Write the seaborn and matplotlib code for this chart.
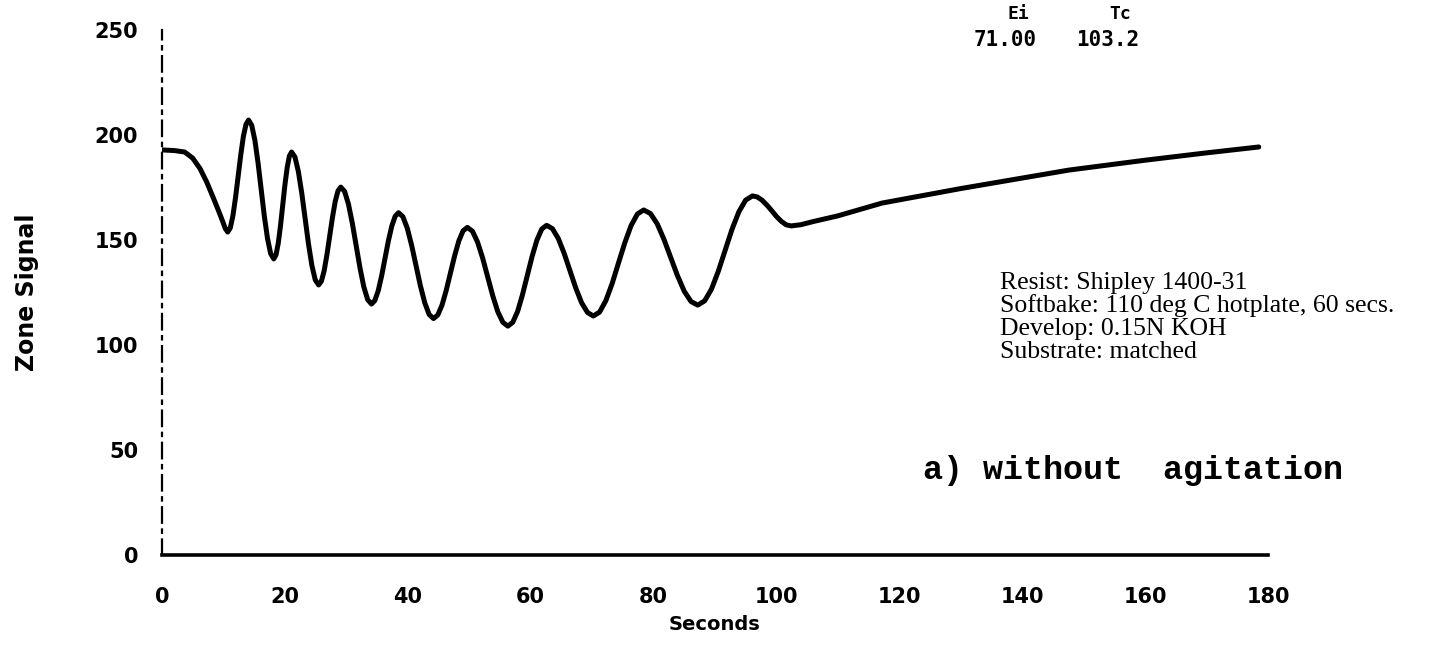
import matplotlib
matplotlib.use("Agg")
import matplotlib.pyplot as plt
import seaborn as sns
import pandas as pd

# ---- data ----
seconds = [0.0, 2.0, 3.7, 5.0, 6.2, 7.3, 8.3, 9.2, 9.8, 10.3, 10.7,
           11.13, 11.55, 11.98, 12.4, 12.83, 13.25, 13.68, 14.1,
           14.61, 15.13, 15.64, 16.15, 16.66, 17.18, 17.69, 18.2,
           18.56, 18.93, 19.29, 19.65, 20.01, 20.38, 20.74, 21.1,
           21.65, 22.2, 22.75, 23.3, 23.85, 24.4, 24.95, 25.5,
           25.95, 26.4, 26.85, 27.3, 27.75, 28.2, 28.65, 29.1,
           29.73, 30.35, 30.98, 31.6, 32.23, 32.85, 33.48, 34.1,
           34.65, 35.2, 35.75, 36.3, 36.85, 37.4, 37.95, 38.5,
           39.21, 39.93, 40.64, 41.35, 42.06, 42.78, 43.49, 44.2,
           44.89, 45.58, 46.26, 46.95, 47.64, 48.33, 49.01, 49.7,
           50.53, 51.35, 52.18, 53.0, 53.83, 54.65, 55.48, 56.3,
           57.09, 57.88, 58.66, 59.45, 60.24, 61.03, 61.81, 62.6,
           63.55, 64.5, 65.45, 66.4, 67.35, 68.3, 69.25, 70.2,
           71.23, 72.25, 73.28, 74.3, 75.33, 76.35, 77.38, 78.4,
           79.5, 80.6, 81.7, 82.8, 83.9, 85.0, 86.1, 87.2,
           88.31, 89.43, 90.54, 91.65, 92.76, 93.88, 94.99, 96.1,
           96.89, 97.68, 98.46, 99.25, 100.04, 100.83, 101.61, 102.4,
           104.0, 106.0, 110.0, 117.2, 130.0, 147.6, 160.0, 170.0, 178.5]
zone_signal = [192.9, 192.6, 191.9, 189.0, 184.0, 177.5, 170.5, 164.0, 159.5, 155.5, 153.8,
               155.8, 161.6, 170.3, 180.5, 190.6, 199.3, 205.1, 207.1,
               204.6, 197.4, 186.7, 174.1, 161.4, 150.7, 143.5, 141.0,
               142.9, 148.5, 156.7, 166.5, 176.2, 184.5, 190.0, 191.9,
               189.5, 182.6, 172.4, 160.3, 148.1, 137.9, 131.0, 128.6,
               130.4, 135.4, 143.0, 151.9, 160.8, 168.4, 173.4, 175.2,
               173.1, 167.1, 158.0, 147.4, 136.7, 127.7, 121.6, 119.5,
               121.2, 125.9, 132.9, 141.3, 149.6, 156.6, 161.3, 163.0,
               161.1, 155.6, 147.4, 137.8, 128.2, 120.0, 114.5, 112.6,
               114.3, 119.0, 126.0, 134.3, 142.6, 149.7, 154.4, 156.0,
               154.2, 149.1, 141.5, 132.5, 123.5, 115.9, 110.8, 109.0,
               110.8, 116.0, 123.8, 133.0, 142.2, 150.0, 155.2, 157.0,
               155.4, 150.7, 143.7, 135.4, 127.1, 120.1, 115.5, 113.8,
               115.7, 121.2, 129.4, 139.1, 148.7, 156.9, 162.4, 164.3,
               162.6, 157.7, 150.3, 141.7, 133.0, 125.6, 120.7, 119.0,
               121.0, 126.6, 135.1, 145.0, 155.0, 163.4, 169.0, 171.0,
               170.5, 168.9, 166.6, 163.9, 161.1, 158.8, 157.2, 156.7,
               157.3, 158.8, 161.5, 167.6, 174.5, 183.3, 188.0, 191.5, 194.3]
x_ticks = [0, 20, 40, 60, 80, 100, 120, 140, 160, 180]
y_ticks = [0, 50, 100, 150, 200, 250]
ei_value = "71.00"
tc_value = "103.2"
notes = ["Resist: Shipley 1400-31",
         "Softbake: 110 deg C hotplate, 60 secs.",
         "Develop: 0.15N KOH",
         "Substrate: matched"]
panel_label = "a) without  agitation"

df = pd.DataFrame({"Seconds": seconds, "Zone Signal": zone_signal})

sns.set_style("white")
plt.rcParams["font.family"] = ["DejaVu Sans"]
plt.rcParams["text.color"] = "black"
plt.rcParams["axes.labelcolor"] = "black"

fig = plt.figure(figsize=(14.37, 6.48), dpi=100)
ax = fig.add_axes([0.1127, 0.1435, 0.7697, 0.8102])

sns.lineplot(data=df, x="Seconds", y="Zone Signal", color="black",
             linewidth=3.6, ax=ax, sort=False,
             solid_joinstyle="round", solid_capstyle="round")

ax.set_xlim(0, 180)
ax.set_ylim(0, 250)
ax.set_xticks(x_ticks)
ax.set_yticks(y_ticks)
ax.set_xticklabels([str(v) for v in x_ticks], fontsize=15, fontweight="bold")
ax.set_yticklabels([str(v) for v in y_ticks], fontsize=15, fontweight="bold")

for s in ["top", "right"]:
    ax.spines[s].set_visible(False)
ax.spines["left"].set_linestyle((0, (7, 3, 1.5, 3)))
ax.spines["left"].set_linewidth(1.6)
ax.spines["bottom"].set_linewidth(2.6)
ax.spines["left"].set_color("black")
ax.spines["bottom"].set_color("black")

ax.tick_params(axis="x", direction="out", length=14, width=1.8, pad=9, colors="black")
ax.tick_params(axis="y", direction="out", length=12, width=1.8, pad=5, colors="black")

ax.set_xlabel("Seconds", fontsize=14, fontweight="bold", labelpad=6, color="black")
ax.set_ylabel("Zone Signal", fontsize=17, fontweight="bold", labelpad=40, color="black")

# header values
fig.text(1018 / 1437, 1 - 14 / 648, "Ei", fontsize=13, fontweight="bold",
         ha="center", va="center", family="DejaVu Sans Mono", color="black")
fig.text(1120 / 1437, 1 - 14 / 648, "Tc", fontsize=13, fontweight="bold",
         ha="center", va="center", family="DejaVu Sans Mono", color="black")
fig.text(1005 / 1437, 1 - 40 / 648, ei_value, fontsize=15, fontweight="bold",
         ha="center", va="center", family="DejaVu Sans Mono", color="black")
fig.text(1108 / 1437, 1 - 40 / 648, tc_value, fontsize=15, fontweight="bold",
         ha="center", va="center", family="DejaVu Sans Mono", color="black")

for i, line in enumerate(notes):
    fig.text(1000 / 1437, 1 - (283 + 23 * i) / 648, line, fontsize=18.5,
             family="Liberation Serif", ha="left", va="center", color="black")

fig.text(923 / 1437, 1 - 470 / 648, panel_label, fontsize=24, fontweight="bold",
         family="Liberation Mono", ha="left", va="center", color="black")

fig.savefig("out.png", dpi=100, facecolor="white")
